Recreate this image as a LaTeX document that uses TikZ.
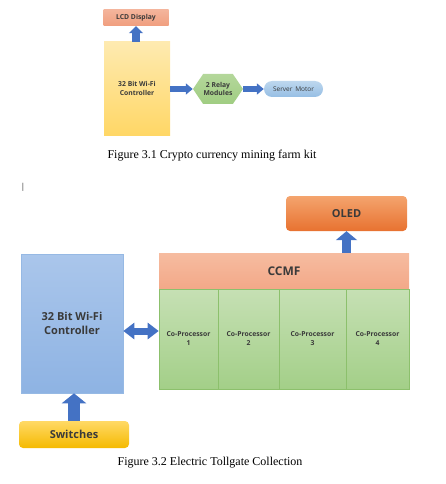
\documentclass[tikz,border=0pt]{standalone}
\usepackage{fontspec}
\setmainfont{Liberation Serif}
\newfontfamily\blockfont{Open Sans}
\usetikzlibrary{arrows.meta,shapes.misc,shapes.symbols}

\definecolor{arrowblue}{HTML}{4472C4}
\definecolor{textgray}{HTML}{3A3A3A}

\begin{document}
\begin{tikzpicture}[
        x=1pt, y=-1pt,
        every node/.style={inner sep=0pt, align=center, text=textgray},
        block/.style={font=\blockfont\bfseries\fontsize{6.8}{8.5}\selectfont},
        bigblock/.style={font=\blockfont\bfseries\fontsize{11}{13.5}\selectfont},
        cellblock/.style={font=\blockfont\bfseries\fontsize{6.8}{9}\selectfont,
            top color={rgb,255:red,198;green,224;blue,180}, bottom color={rgb,255:red,163;green,207;blue,136},
            draw={rgb,255:red,140;green,192;blue,108}, line width=0.6pt, minimum height=100pt},
        caption/.style={font=\fontsize{12}{14}\selectfont, text=black},
        thinarrow/.style={arrowblue, line width=5.5pt, -{Triangle[length=7pt, width=11pt]}},
        uparrow/.style={arrowblue, line width=8pt, -{Triangle[length=7pt, width=14pt]}},
        midarrow/.style={arrowblue, line width=9pt, -{Triangle[length=9pt, width=21pt]}},
        fatarrow/.style={arrowblue, line width=12pt, -{Triangle[length=10pt, width=24pt]}},
        dblarrow/.style={arrowblue, line width=7pt, {Triangle[length=11pt, width=16pt]}-{Triangle[length=11pt, width=16pt]}}
    ]
    \useasboundingbox (0,0) rectangle (445,484);

    % Figure 3.1
    \node[block, minimum width=65pt, minimum height=16pt,
        top color={rgb,255:red,244;green,180;blue,155}, bottom color={rgb,255:red,240;green,158;blue,126}]
        (lcd) at (136,18) {LCD Display};
    \node[block, minimum width=66pt, minimum height=93pt,
        top color={rgb,255:red,254;green,234;blue,176}, bottom color={rgb,255:red,255;green,215;blue,102}]
        (ctrlA) at (137,88.5) {32 Bit Wi-Fi\\Controller};
    \node[block, signal, signal to=west and east, signal pointer angle=112,
        minimum width=50pt, minimum height=30pt,
        top color={rgb,255:red,180;green,215;blue,155}, bottom color={rgb,255:red,160;green,205;blue,130}]
        (relay) at (218,89) {2 Relay\\Modules};
    \node[rounded rectangle, minimum width=59pt, minimum height=16pt,
        font=\blockfont\fontsize{6.5}{8}\selectfont,
        top color={rgb,255:red,189;green,215;blue,238}, bottom color={rgb,255:red,150;green,190;blue,228}]
        (motor) at (293.5,89) {Server\, Motor};
    \node[caption] (capA) at (212,156) {Figure 3.1 Crypto currency mining farm kit};

    \draw[uparrow] (ctrlA.north -| lcd.south) -- (lcd.south);
    \draw[thinarrow] (ctrlA.east |- relay.west) -- (relay.west);
    \draw[thinarrow] (relay.east) -- (motor.west);

    % Figure 3.2
    \node[font=\fontsize{9}{11}\selectfont, text=black] (cursor) at (23,187) {|};
    \node[bigblock, rounded corners=4pt, minimum width=121pt, minimum height=35pt,
        top color={rgb,255:red,244;green,164;blue,110}, bottom color={rgb,255:red,232;green,114;blue,48}]
        (oled) at (346.5,213.5) {OLED};
    \node[bigblock, font=\blockfont\bfseries\fontsize{12}{14}\selectfont, minimum width=250pt, minimum height=36pt,
        top color={rgb,255:red,246;green,188;blue,160}, bottom color={rgb,255:red,243;green,168;blue,136}]
        (ccmf) at (284,271) {CCMF};
    \node[cellblock, minimum width=59pt] (cp1) at (188.5,339) {Co-Processor\\1};
    \node[cellblock, minimum width=61pt] (cp2) at (248.5,339) {Co-Processor\\2};
    \node[cellblock, minimum width=67pt] (cp3) at (312.5,339) {Co-Processor\\3};
    \node[cellblock, minimum width=63pt] (cp4) at (377.5,339) {Co-Processor\\4};
    \node[bigblock, minimum width=102pt, minimum height=139pt,
        top color={rgb,255:red,170;green,198;blue,235}, bottom color={rgb,255:red,142;green,179;blue,227},
        draw={rgb,255:red,150;green,185;blue,228}, line width=0.6pt]
        (ctrlB) at (72,323.5) {32 Bit Wi-Fi\\Controller};
    \node[bigblock, rounded corners=4pt, minimum width=110pt, minimum height=27pt,
        top color={rgb,255:red,255;green,217;blue,102}, bottom color={rgb,255:red,245;green,186;blue,0}]
        (sw) at (74,434.5) {Switches};
    \node[caption] (capB) at (210,463) {Figure 3.2 Electric Tollgate Collection};

    \coordinate (bus) at (140,331);
    \draw[midarrow] (ccmf.north -| oled.south) -- (oled.south);
    \draw[dblarrow] (ctrlB.east |- bus) -- (cp1.west |- bus);
    \draw[fatarrow] (sw.north) -- (sw.north |- ctrlB.south);
\end{tikzpicture}
\end{document}
